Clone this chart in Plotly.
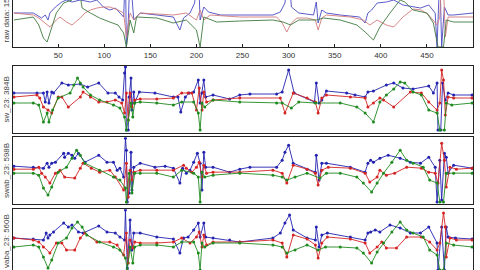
import plotly.graph_objects as go

# ---------------- data (sample index, amplitude) ----------------
panel_labels = ["raw data: 1500B", "sw_23: 384B", "swab_23: 598B", "vaba_23: 560B"]
x_ticks = [50, 100, 150, 200, 250, 300, 350, 400, 450, 500]

# raw data panel
raw_blue_x = [2,23,32,36,39,41,47,54,59,65,74,85,92,99,106,112,117,121,123,124,126,128,132,139,175,182,186,193,198,202,204,208,213,226,247,283,291,296,300,303,311,327,330,332,336,341,356,377,383,386,390,396,406,414,424,435,443,452,459,461,464,466,469,473,479,500]
raw_blue_y = [34,34,29,32,27,34,40,45,47,45,47,45,47,40,37,39,34,30,75,0,24,75,27,34,30,17,29,34,44,75,27,40,35,32,32,32,35,44,75,40,34,32,45,24,37,34,32,30,24,34,37,44,45,47,42,40,39,42,34,0,75,0,40,32,32,34]
raw_red_x = [2,23,29,34,41,48,52,59,65,74,79,85,92,99,106,115,121,124,128,132,139,175,189,200,204,208,215,247,283,287,293,298,303,309,320,329,332,336,341,367,381,388,396,406,414,424,435,444,452,461,464,466,468,470,473,500]
raw_red_y = [34,32,29,25,20,27,30,25,22,29,34,37,39,40,40,37,34,10,34,27,34,32,34,27,37,27,32,30,30,30,24,15,24,29,29,27,17,29,32,30,27,22,27,22,20,30,38,37,32,22,30,75,60,10,30,30]
raw_green_x = [2,23,29,34,38,41,48,56,65,70,76,85,95,106,115,121,124,128,132,135,157,175,189,200,204,208,222,247,283,294,302,311,330,338,356,374,383,392,399,410,421,426,435,450,457,462,468,471,479,500]
raw_green_y = [27,30,22,9,5,14,34,44,47,75,39,34,29,25,22,14,0,27,14,30,29,24,27,17,0,30,25,26,27,25,22,27,27,29,27,22,15,7,20,34,47,45,37,34,24,0,0,27,25,25]

# sw_23
sw_blue_x = [2,27,34,36,38,40,43,45,54,61,74,82,94,104,112,116,120,122,123,124,126,127,129,130,132,133,138,155,175,180,183,188,192,197,202,204,206,208,210,218,236,247,258,287,293,300,306,328,330,333,336,341,363,372,383,386,392,406,414,424,435,452,457,461,462,465,467,470,473,479,499]
sw_blue_y = [40,40,40,31,41,30,41,40,50,48,49,46,50,40,40,36,33,60,66,3,3,36,55,23,41,30,41,40,36,36,21,36,40,41,53,30,40,53,36,38,34,38,39,39,41,63,40,31,50,30,33,42,40,38,36,41,42,48,50,45,44,47,40,50,3,3,50,33,40,38,38]
sw_red_x = [2,27,30,34,39,43,50,54,61,74,77,85,94,103,112,119,122,124,126,128,130,133,139,157,175,184,191,195,200,203,206,208,211,218,247,291,296,305,320,329,332,336,341,367,383,386,392,399,403,414,432,444,452,461,464,466,468,470,473,479,499]
sw_red_y = [36,38,35,26,23,20,36,36,26,36,41,36,31,31,33,30,20,40,13,40,26,33,34,34,35,40,40,40,23,45,23,41,31,33,35,35,20,40,35,31,20,35,38,36,35,26,30,35,33,26,41,40,31,23,30,63,53,18,36,35,35]
sw_green_x = [2,23,29,34,38,40,44,50,63,67,71,74,77,85,95,110,117,122,124,126,129,131,133,139,157,175,184,197,202,204,206,209,218,247,287,293,303,311,329,356,374,383,392,399,406,414,421,426,435,444,452,461,464,469,471,477,499]
sw_green_y = [30,30,28,11,20,11,23,35,40,48,55,50,46,38,33,28,25,16,3,13,30,16,30,31,30,28,31,31,20,3,30,26,33,31,30,30,25,31,30,30,26,20,11,31,38,44,51,50,41,38,23,20,3,3,30,28,30]

# swab_23
swab_blue_x = [2,23,34,38,40,43,47,56,57,61,65,68,72,79,94,103,110,114,117,121,123,124,125,127,129,130,132,139,155,166,175,182,185,189,193,197,201,204,206,208,210,218,236,247,258,287,293,296,300,305,320,329,330,333,336,341,367,383,386,389,392,399,408,421,432,443,452,459,461,464,466,469,471,473,479,499]
swab_blue_y = [38,37,36,41,37,41,42,51,47,51,49,46,51,42,49,42,42,34,36,27,66,54,2,11,52,14,37,41,37,38,36,21,36,31,34,42,51,41,14,52,37,37,32,35,37,37,44,52,59,41,35,32,49,24,41,41,37,32,41,44,42,46,49,46,42,41,47,37,2,44,4,51,47,31,39,36]
swab_red_x = [2,23,29,32,36,41,47,52,57,68,74,77,86,95,106,112,121,124,126,128,130,132,139,157,175,186,189,195,200,203,206,208,211,218,247,283,293,298,305,320,329,332,336,343,367,383,388,396,399,406,415,428,444,452,459,462,466,469,471,475,482,499]
swab_red_y = [35,35,37,31,27,21,31,34,27,26,36,41,36,32,34,27,14,41,7,34,24,32,34,34,34,39,36,32,37,42,27,39,31,32,32,34,31,21,39,35,31,19,34,37,36,31,22,27,34,29,31,37,36,32,31,21,61,44,17,37,35,36]
swab_green_x = [2,23,29,34,39,43,50,59,65,70,74,79,95,110,117,123,124,127,130,133,139,157,175,184,197,202,204,206,209,218,247,283,293,298,307,320,334,341,356,374,381,390,396,403,412,421,428,435,446,453,461,464,468,471,479,499]
swab_green_y = [31,31,29,16,9,17,32,37,46,54,49,41,34,27,24,16,2,31,11,31,31,31,27,34,31,27,2,32,27,29,31,29,27,24,27,31,26,31,31,27,21,12,21,31,42,54,44,41,37,24,21,2,2,31,31,31]

# vaba_23
vaba_blue_x = [2,23,34,37,39,41,45,56,61,65,72,77,94,103,112,117,122,123,125,128,130,132,139,157,175,182,186,191,197,202,204,208,210,218,236,247,283,291,296,301,305,320,329,330,333,336,342,367,383,386,389,394,399,410,421,432,443,452,461,462,466,469,471,473,481,499]
vaba_blue_y = [38,37,36,43,38,41,44,53,49,51,44,43,50,44,43,39,36,66,8,56,26,43,43,39,37,23,38,39,46,53,39,53,39,38,36,34,38,43,53,61,46,38,36,49,29,41,43,39,36,43,44,46,44,51,48,43,43,49,33,6,49,6,49,39,38,37]
vaba_red_x = [2,23,29,34,41,48,54,59,68,74,79,92,106,114,121,124,126,128,131,133,139,157,175,184,193,200,203,206,208,211,218,247,283,293,298,305,320,329,332,336,342,367,383,388,396,401,406,417,428,444,453,461,464,468,470,471,475,482,499]
vaba_red_y = [38,36,34,29,23,33,33,26,26,38,43,34,34,31,21,43,13,36,28,34,33,33,34,38,33,39,44,29,41,31,34,34,36,33,19,41,37,31,18,33,39,37,33,23,29,34,28,28,39,39,34,26,33,63,49,19,38,36,36]
vaba_green_x = [2,23,29,34,39,43,50,59,65,71,76,81,95,110,117,123,125,128,131,133,139,157,175,184,197,202,204,206,209,218,247,283,293,298,307,320,332,340,356,374,381,390,396,403,412,421,428,435,446,453,461,464,468,471,479,499]
vaba_green_y = [29,31,29,19,8,16,33,38,48,54,49,41,34,29,26,18,6,29,13,29,31,31,29,34,34,23,6,33,29,33,33,31,29,23,26,31,26,29,29,28,23,13,24,33,44,54,46,43,39,26,21,6,6,33,31,29]

# ---------------- styling ----------------
raw_colors = ["#4a4ac4", "#d27a7a", "#3f7a3f"]
seg_colors = ["#2323b0", "#d42424", "#1f8a1f"]
x_domain = [13 / 480, 473 / 480]
y_domains = [[1 - 47 / 270, 1.0],
             [1 - 133 / 270, 1 - 66 / 270],
             [1 - 204 / 270, 1 - 137.3 / 270],
             [0.0, 1 - 209.3 / 270]]
y_ranges = [[0, 47], [0, 67], [0, 67], [6, 66.7]]

fig = go.Figure()

raw_series = [(raw_blue_x, raw_blue_y), (raw_red_x, raw_red_y), (raw_green_x, raw_green_y)]
for (xs, ys), c in zip(raw_series, raw_colors):
    fig.add_trace(go.Scatter(x=xs, y=ys, mode="lines", line=dict(color=c, width=0.9),
                             xaxis="x", yaxis="y", showlegend=False, hoverinfo="skip"))

seg_panels = [
    [(sw_blue_x, sw_blue_y), (sw_red_x, sw_red_y), (sw_green_x, sw_green_y)],
    [(swab_blue_x, swab_blue_y), (swab_red_x, swab_red_y), (swab_green_x, swab_green_y)],
    [(vaba_blue_x, vaba_blue_y), (vaba_red_x, vaba_red_y), (vaba_green_x, vaba_green_y)],
]
for i, panel in enumerate(seg_panels, start=2):
    for (xs, ys), c in zip(panel, seg_colors):
        fig.add_trace(go.Scatter(x=xs, y=ys, mode="lines+markers",
                                 line=dict(color=c, width=0.9),
                                 marker=dict(color=c, size=3),
                                 xaxis=f"x{i}", yaxis=f"y{i}", showlegend=False, hoverinfo="skip"))

layout = dict(width=480, height=270, margin=dict(l=0, r=0, t=0, b=0),
              paper_bgcolor="white", plot_bgcolor="white",
              font=dict(family="Liberation Sans, Arial, sans-serif", size=8, color="#333333"))
axis_common = dict(showgrid=False, zeroline=False, linecolor="#222222", linewidth=1)

for i in range(1, 5):
    sx = "" if i == 1 else str(i)
    xa = dict(axis_common, domain=x_domain, range=[1, 500], anchor=f"y{sx}")
    ya = dict(axis_common, domain=y_domains[i - 1], range=y_ranges[i - 1], anchor=f"x{sx}",
              showline=True, mirror=True, showticklabels=False, ticks="")
    if i == 1:
        xa.update(showline=True, mirror=False, ticks="inside", ticklen=3, tickcolor="#222222",
                  tickvals=x_ticks, ticktext=[str(t) for t in x_ticks], showticklabels=True,
                  tickfont=dict(size=8, color="#333333"))
    elif i == 4:
        xa.update(showline=True, mirror=False, side="top", ticks="", showticklabels=False)
    else:
        xa.update(showline=True, mirror=True, ticks="", showticklabels=False)
    layout[f"xaxis{sx}"] = xa
    layout[f"yaxis{sx}"] = ya

annotations = []
centers = [1 - 13.5 / 270, 1 - 99.5 / 270, 1 - 171 / 270, 1 - 241 / 270]
for lab, cy in zip(panel_labels, centers):
    annotations.append(dict(text=lab, x=6 / 480, y=cy, xref="paper", yref="paper",
                            textangle=-90, showarrow=False, xanchor="center", yanchor="middle",
                            font=dict(size=8, color="#444444")))
layout["annotations"] = annotations

fig.update_layout(**layout)
fig.write_html("out.html")
